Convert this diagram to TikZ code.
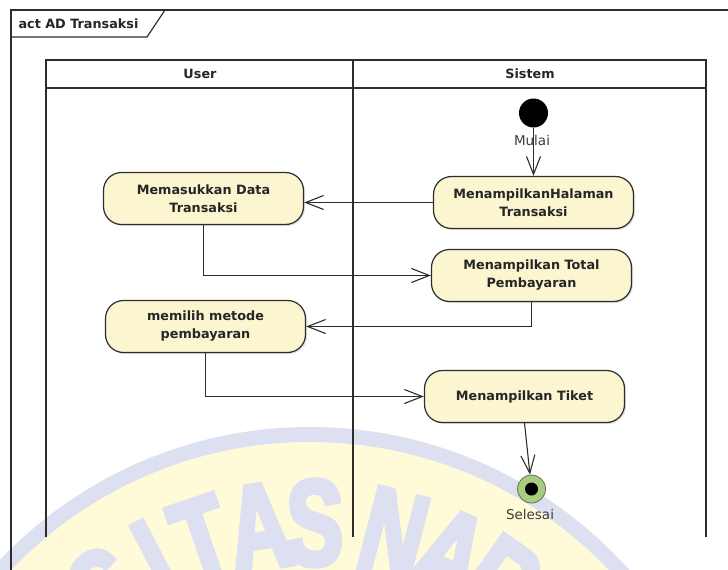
\documentclass[tikz,border=0pt]{standalone}
\usepackage{fontspec}
\setmainfont{DejaVu Sans}
\newfontfamily\wmfont[FakeStretch=0.7,FakeBold=4]{Liberation Sans Bold}
\usetikzlibrary{arrows.meta,shadows}

\definecolor{inkline}{RGB}{45,45,45}
\definecolor{actfill}{RGB}{251,245,208}
\definecolor{wmblue}{RGB}{221,224,240}
\definecolor{wmyellow}{RGB}{255,250,216}
\definecolor{endgreen}{RGB}{168,204,128}
\definecolor{endrim}{RGB}{95,115,85}
\definecolor{labelgray}{RGB}{60,60,60}

\tikzset{
  frameline/.style={draw=inkline, line width=1.2pt},
  headtext/.style={font=\fontsize{12.8}{15}\selectfont\bfseries, text=black!85},
  activity/.style={draw=inkline, line width=1.2pt, fill=actfill,
    rounded corners=18pt, minimum width=200pt, minimum height=52pt,
    align=center, inner sep=2pt,
    font=\fontsize{12.8}{18}\selectfont\bfseries, text=black!85,
    drop shadow={shadow xshift=1.5pt, shadow yshift=-1.5pt, opacity=0.2, fill=black!60}},
  flow/.style={draw=inkline, line width=1.1pt,
    -{Straight Barb[length=18pt,width=14pt]}},
  statelabel/.style={font=\fontsize{13.5}{16}\selectfont, text=labelgray},
  wmletter/.style={font=\fontsize{122}{122}\wmfont,
    text=wmblue, inner sep=0pt, anchor=base},
}

\begin{document}
\begin{tikzpicture}[x=1pt,y=-1pt]
\useasboundingbox (0,0) rectangle (728,570);

% university seal in the background
\begin{scope}
  \clip (0,0) rectangle (728,570);
  \fill[wmyellow] (310,855) circle (413);
  \draw[wmblue, line width=15pt] (310,855) circle (420.5);
  \foreach \ch/\ang in {S/127.4, I/117.6, T/108.9, A/98.8, S/89.2, N/75.4, A/65.0, R/55.0}
    \node[wmletter, rotate=\ang-90] at ({310+290*cos(\ang)},{855-290*sin(\ang)}) {\ch};
\end{scope}

% diagram frame with its name tab
\draw[frameline] (11,570) -- (11,10) -- (728,10);
\draw[frameline] (11,37) -- (147,37) -- (165,10);
\node[headtext, anchor=west] (title) at (15,24) {act AD Transaksi};

% swimlanes
\draw[frameline] (46,537) -- (46,60) -- (706,60) -- (706,537);
\draw[frameline] (46,88) -- (706,88);
\draw[frameline] (353,60) -- (353,537);
\node[headtext] (laneuser) at (200,74) {User};
\node[headtext] (lanesys) at (530,74) {Sistem};

% initial and final states
\node[circle, fill=black, minimum size=29pt, inner sep=0pt] (start) at (533.5,113) {};
\node[statelabel] (mulai) at (532,140) {Mulai};
\node[circle, draw=endrim, fill=endgreen, line width=0.8pt, minimum size=28pt, inner sep=0pt] (finish) at (531.5,489) {};
\node[circle, fill=black, minimum size=13pt, inner sep=0pt] (finishdot) at (finish.center) {};
\node[statelabel] (selesai) at (530,514) {Selesai};

% activities
\node[activity] (a1) at (533.5,202.5) {MenampilkanHalaman\\Transaksi};
\node[activity] (a2) at (203.5,198.5) {Memasukkan Data\\Transaksi};
\node[activity] (a3) at (531.5,275.5) {Menampilkan Total\\Pembayaran};
\node[activity] (a4) at (205.5,326.5) {memilih metode\\pembayaran};
\node[activity] (a5) at (524.5,396.5) {Menampilkan Tiket};

% control flows
\draw[flow] (start) -- (a1);
\draw[flow] (a1.west) -- (a1.west -| a2.east);
\draw[flow] (a2.south) |- (a3.west);
\draw[flow] (a3.south) |- (a4.east);
\draw[flow] (a4.south) |- (a5.west);
\draw[flow] (a5.south) -- (finish);
\end{tikzpicture}
\end{document}
